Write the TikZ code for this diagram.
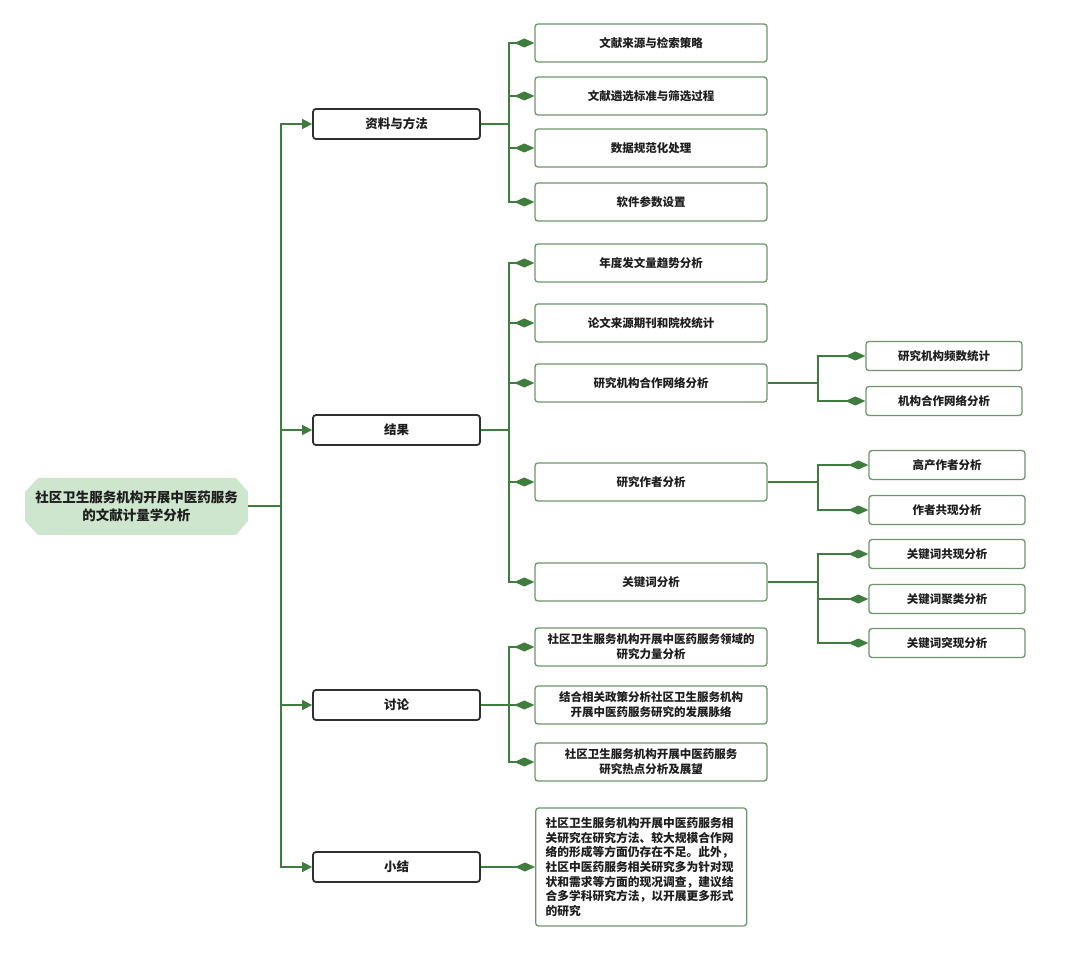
\documentclass[tikz,border=0pt]{standalone}
\usepackage{fontspec}
\setmainfont{Noto Sans CJK SC}
\usetikzlibrary{arrows.meta}
\definecolor{lgreen}{RGB}{62,125,62}
\definecolor{bgreen}{RGB}{110,150,110}
\definecolor{rootfill}{RGB}{206,230,206}
\definecolor{dark}{RGB}{45,50,45}
\definecolor{txt}{RGB}{30,30,30}
\begin{document}
\begin{tikzpicture}[x=1pt,y=-1pt,
  root/.style={draw=none, minimum width=223pt, minimum height=57pt, inner sep=0pt, align=center, text=txt, font=\bfseries\fontsize{13.5}{18}\selectfont},
  lone/.style={draw=dark, line width=1.8pt, rounded corners=3pt, fill=white, minimum width=167pt, minimum height=30pt, inner sep=0pt, text=txt, font=\bfseries\fontsize{12.5}{15}\selectfont},
  ltwo/.style={draw=bgreen, line width=1.3pt, rounded corners=3pt, fill=white, minimum width=232pt, minimum height=38pt, inner sep=0pt, align=center, text=txt, font=\bfseries\fontsize{11.5}{15}\selectfont},
  lthree/.style={draw=bgreen, line width=1.3pt, rounded corners=3pt, fill=white, minimum width=156pt, minimum height=29pt, inner sep=0pt, text=txt, font=\bfseries\fontsize{11.5}{15}\selectfont},
  summ/.style={draw=bgreen, line width=1.3pt, rounded corners=3pt, fill=white, minimum width=211pt, minimum height=118pt, inner xsep=10pt, inner ysep=0pt, text width=191pt, align=left, text=txt, font=\bfseries\fontsize{11.75}{14.7}\selectfont},
  conn/.style={draw=lgreen, line width=1.6pt},
  arr/.style={conn, -{Triangle[length=10pt,width=10pt]}},
  dia/.style={conn, -{Diamond[length=20pt,width=9pt]}}
]
\useasboundingbox (0,0) rectangle (1080,957);
\fill[white] (0,0) rectangle (1080,957);

% root
\fill[rootfill] (38,478) -- (236,478) -- (248,492) -- (248,521) -- (236,535) -- (38,535) -- (25,521) -- (25,492) -- cycle;
\node[root] (root) at (136.5,506) {社区卫生服务机构开展中医药服务\\的文献计量学分析};

% level 1
\node[lone] (m1) at (396.5,124) {资料与方法};
\node[lone] (m2) at (396.5,430) {结果};
\node[lone] (m3) at (396.5,705) {讨论};
\node[lone] (m4) at (396.5,867) {小结};

% level 2
\node[ltwo] (a1) at (651,43) {文献来源与检索策略};
\node[ltwo] (a2) at (651,96) {文献遴选标准与筛选过程};
\node[ltwo] (a3) at (651,148) {数据规范化处理};
\node[ltwo] (a4) at (651,202) {软件参数设置};

\node[ltwo] (b1) at (651,263) {年度发文量趋势分析};
\node[ltwo] (b2) at (651,323) {论文来源期刊和院校统计};
\node[ltwo] (b3) at (651,383) {研究机构合作网络分析};
\node[ltwo] (b4) at (651,482) {研究作者分析};
\node[ltwo] (b5) at (651,582) {关键词分析};

\node[ltwo] (c1) at (651,647) {社区卫生服务机构开展中医药服务领域的\\研究力量分析};
\node[ltwo] (c2) at (651,705) {结合相关政策分析社区卫生服务机构\\开展中医药服务研究的发展脉络};
\node[ltwo] (c3) at (651,762) {社区卫生服务机构开展中医药服务\\研究热点分析及展望};

\node[summ, anchor=west] (d1) at (535,867) {社区卫生服务机构开展中医药服务相\\关研究在研究方法、较大规模合作网\\络的形成等方面仍存在不足。此外，\\社区中医药服务相关研究多为针对现\\状和需求等方面的现况调查，建议结\\合多学科研究方法，以开展更多形式\\的研究};

% level 3
\node[lthree] (e1) at (944,356) {研究机构频数统计};
\node[lthree] (e2) at (944,401) {机构合作网络分析};
\node[lthree] (f1) at (947,465) {高产作者分析};
\node[lthree] (f2) at (947,510) {作者共现分析};
\node[lthree] (g1) at (947,554) {关键词共现分析};
\node[lthree] (g2) at (947,599) {关键词聚类分析};
\node[lthree] (g3) at (947,643) {关键词突现分析};

% junctions
\coordinate (j0) at (281,506);
\coordinate (j1) at (509,124);
\coordinate (j2) at (509,430);
\coordinate (j3) at (509,705);
\coordinate (k1) at (818,383);
\coordinate (k2) at (818,482);
\coordinate (k3) at (818,582);

% root to level 1
\draw[conn] (root.east) -- (j0);
\foreach \m in {m1,m2,m3,m4} \draw[arr] (j0) |- (\m.west);

% level 1 to level 2
\draw[conn] (m1.east) -- (j1);
\foreach \c in {a1,a2,a3,a4} \draw[dia] (j1) |- (\c.west);
\draw[conn] (m2.east) -- (j2);
\foreach \c in {b1,b2,b3,b4,b5} \draw[dia] (j2) |- (\c.west);
\draw[conn] (m3.east) -- (j3);
\foreach \c in {c1,c2,c3} \draw[dia] (j3) |- (\c.west);
\draw[dia] (m4.east) -- (d1.west);

% level 2 to level 3
\draw[conn] (b3.east) -- (k1);
\foreach \c in {e1,e2} \draw[dia] (k1) |- (\c.west);
\draw[conn] (b4.east) -- (k2);
\foreach \c in {f1,f2} \draw[dia] (k2) |- (\c.west);
\draw[conn] (b5.east) -- (k3);
\foreach \c in {g1,g2,g3} \draw[dia] (k3) |- (\c.west);
\end{tikzpicture}
\end{document}
